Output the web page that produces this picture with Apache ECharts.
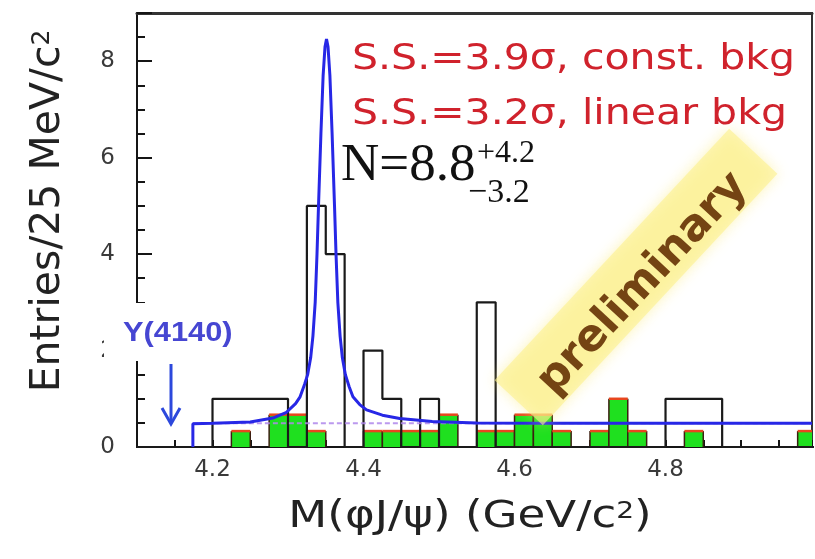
<!DOCTYPE html>
<html><head><meta charset="utf-8">
<script src="https://cdn.jsdelivr.net/npm/echarts@6/dist/echarts.min.js"></script>
<style>html,body{margin:0;padding:0;background:#fff}#c{width:815px;height:559px}</style>
</head><body><div id="c"></div>
<script>
// ---- data ----
const binLow = [4.100,4.125,4.150,4.175,4.200,4.225,4.250,4.275,4.300,4.325,4.350,4.375,
                4.400,4.425,4.450,4.475,4.500,4.525,4.550,4.575,4.600,4.625,4.650,4.675,
                4.700,4.725,4.750,4.775,4.800,4.825,4.850,4.875,4.900,4.925,4.950,4.975];
const binWidth = 0.025;
const dataCounts = [0,0,0,0, 1,1,1,1, 0,5,4,0, 2,1,0,1, 0,0,3,0, 0,0,0,0, 0,0,0,0, 1,1,1,0, 0,0,0,0];
const sidebandCounts = [0,0,0,0, 0,0.33,0,0.67, 0.67,0.33,0,0, 0.33,0.33,0.33,0.33,
                        0.67,0,0.33,0.33, 0.67,0.67,0.33,0, 0.33,1.0,0.33,0, 0,0.33,0,0, 0,0,0,0.33];
const fitX = [4.174,4.174,4.200,4.250,4.280,4.298,4.310,4.316,4.322,4.326,4.330,4.333,4.336,4.3384,4.3404,
              4.3436,4.3465,4.349,4.351,4.353,4.3555,4.3584,4.3616,4.3636,4.366,4.369,4.372,4.376,4.381,
              4.386,4.395,4.404,4.425,4.448,4.491,4.550,4.650,4.994];
const fitY = [0,0.48,0.49,0.52,0.60,0.72,0.90,1.04,1.30,1.50,1.85,2.30,3.00,4.00,5.00,
              6.50,7.70,8.30,8.46,8.30,7.70,6.50,5.00,4.00,3.00,2.30,1.85,1.50,1.25,
              1.04,0.88,0.77,0.66,0.59,0.53,0.50,0.49,0.49];
const bkgX = [4.174, 4.994];
const bkgY = [0.49, 0.49];
const xTickLabels = ['4.2','4.4','4.6','4.8'];
const yTickLabels = ['0','2','4','6','8'];
const xMin = 4.1, xMax = 4.994, yMin = 0, yMax = 9;

// ---- build series data ----
const stepData = binLow.map((x, i) => [x, dataCounts[i]]);
stepData.push([binLow[binLow.length - 1] + binWidth, dataCounts[dataCounts.length - 1]]);
const sideData = binLow.map((x, i) => [x, sidebandCounts[i]]);
const fitData = fitX.map((x, i) => [x, fitY[i]]);
const bkgData = bkgX.map((x, i) => [x, bkgY[i]]);

const chart = echarts.init(document.getElementById('c'), null, {renderer: 'canvas'});
const axisCol = '#151515';
const sansFont = 'DejaVu Sans';

const option = {
  animation: false,
  backgroundColor: '#fff',
  grid: {left: 137, top: 13, right: 2, bottom: 112, show: true, borderColor: '#333', borderWidth: 2, backgroundColor: 'transparent'},
  xAxis: [{
    type: 'value', min: xMin, max: xMax, interval: 0.05,
    axisLine: {onZero: false, lineStyle: {color: axisCol, width: 2}},
    axisTick: {inside: true, length: 7, lineStyle: {color: axisCol, width: 2}},
    splitLine: {show: false},
    axisLabel: {
      margin: 12, color: '#3a3a3a', fontFamily: sansFont, fontSize: 23,
      showMinLabel: true, showMaxLabel: true,
      formatter: v => { const t = Math.round(v * 100) / 100; const s = t.toFixed(1);
        return (Math.abs(t - parseFloat(s)) < 1e-6 && xTickLabels.includes(s)) ? s : ''; }
    }
  }, {
    type: 'value', position: 'top', min: xMin, max: xMax,
    axisLine: {show: true, onZero: false, lineStyle: {color: '#333', width: 3}},
    axisTick: {show: false}, axisLabel: {show: false}, splitLine: {show: false}
  }],
  yAxis: [{
    type: 'value', min: yMin, max: yMax, interval: 0.5,
    axisLine: {onZero: false, lineStyle: {color: axisCol, width: 2}},
    axisTick: {inside: true, length: 8, lineStyle: {color: axisCol, width: 2}},
    splitLine: {show: false},
    axisLabel: {
      margin: 22, color: '#3a3a3a', fontFamily: sansFont, fontSize: 23,
      formatter: v => (Number.isInteger(v) && yTickLabels.includes(String(v))) ? String(v) : ''
    },
    name: 'Entries/25 MeV/c{sup|2}', nameLocation: 'middle', nameGap: 68,
    nameTextStyle: {fontFamily: sansFont, fontSize: 41, color: '#222', padding: [0, 0, 0, 38],
      rich: {sup: {fontFamily: sansFont, fontSize: 25, color: '#222', verticalAlign: 'top', padding: [2, 0, 0, 0]}}}
  }, {
    type: 'value', position: 'left', min: yMin, max: yMax, interval: 2,
    axisLine: {show: false, onZero: false},
    axisTick: {inside: true, length: 15, lineStyle: {color: axisCol, width: 2}},
    axisLabel: {show: false}, splitLine: {show: false}
  }],
  series: [
    {
      type: 'custom', name: 'sideband', xAxisIndex: 0, yAxisIndex: 0, z: 2, clip: true,
      data: sideData,
      renderItem: (params, api) => {
        const lo = api.value(0), v = api.value(1);
        if (!v) return null;
        const p0 = api.coord([lo, 0]);
        const p1 = api.coord([lo + binWidth, v]);
        const x0 = p0[0], x1 = Math.min(p1[0], 813), yb = p0[1], yt = p1[1];
        return {type: 'group', children: [
          {type: 'rect', shape: {x: x0, y: yt, width: x1 - x0, height: yb - yt},
           style: {fill: '#1fe01f'}},
          {type: 'polyline', shape: {points: [[x0, yb], [x0, yt]]}, style: {stroke: '#3b1e10', lineWidth: 1.5, fill: null}},
          {type: 'polyline', shape: {points: [[x1, yb], [x1, yt]]}, style: {stroke: '#3b1e10', lineWidth: 1.5, fill: null}},
          {type: 'polyline', shape: {points: [[x0, yt], [x1, yt]]}, style: {stroke: '#e8461e', lineWidth: 2.5, fill: null}}
        ]};
      }
    },
    {
      type: 'line', name: 'data', xAxisIndex: 0, yAxisIndex: 0, z: 3, step: 'end',
      data: stepData, showSymbol: false, symbol: 'none',
      lineStyle: {color: '#1a1a1a', width: 2.2}
    },
    {
      type: 'line', name: 'bkg', xAxisIndex: 0, yAxisIndex: 0, z: 4,
      data: bkgData, showSymbol: false, symbol: 'none',
      lineStyle: {color: 'rgba(175,135,235,0.85)', width: 2, type: [5, 3]}
    },
    {
      type: 'line', name: 'fit', xAxisIndex: 0, yAxisIndex: 0, z: 5,
      data: fitData, showSymbol: false, symbol: 'none', smooth: false,
      lineStyle: {color: '#2727e6', width: 3}
    }
  ],
  graphic: [
    // x-axis title
    {type: 'text', z: 40, x: 470, y: 517, scaleX: 1.22,
     style: {text: 'M(φJ/ψ) (GeV/c{sup|2})', fontFamily: sansFont, fontSize: 37, fill: '#222',
             align: 'center', verticalAlign: 'middle',
             rich: {sup: {fontFamily: sansFont, fontSize: 23, fill: '#222', verticalAlign: 'top', padding: [2, 0, 0, 0]}}}},
    // preliminary stamp
    {type: 'rect', z: 50, x: 636, y: 277, rotation: 47 * Math.PI / 180,
     shape: {x: -172, y: -33, width: 344, height: 66},
     style: {fill: 'rgba(252,240,140,0.62)', shadowBlur: 14, shadowColor: 'rgba(250,235,120,0.8)'}},
    {type: 'text', z: 51, x: 643, y: 284, rotation: 47 * Math.PI / 180,
     style: {text: 'preliminary', fontFamily: sansFont, fontWeight: 'bold', fontSize: 44,
             fill: '#744413', align: 'center', verticalAlign: 'middle'}},
    // white box behind Y(4140)
    {type: 'rect', z: 60, shape: {x: 104, y: 303, width: 134, height: 58}, style: {fill: '#fff'}},
    {type: 'text', z: 61, x: 123, y: 333, scaleX: 1.1,
     style: {text: 'Y(4140)', fontFamily: 'Liberation Sans', fontWeight: 'bold', fontSize: 28,
             fill: '#4646d2', align: 'left', verticalAlign: 'middle'}},
    {type: 'polyline', z: 61, shape: {points: [[171, 364], [171, 423]]}, style: {stroke: '#2c48dc', lineWidth: 3, fill: null}},
    {type: 'polyline', z: 61, shape: {points: [[162, 408], [171, 424], [180, 408]]}, style: {stroke: '#2c48dc', lineWidth: 3, fill: null}},
    // significance texts
    {type: 'text', z: 70, x: 352, y: 60, scaleX: 1.14,
     style: {text: 'S.S.=3.9σ, const. bkg', fontFamily: sansFont, fontSize: 36, fill: '#d0222c',
             align: 'left', verticalAlign: 'middle'}},
    {type: 'text', z: 70, x: 352, y: 115, scaleX: 1.14,
     style: {text: 'S.S.=3.2σ, linear bkg', fontFamily: sansFont, fontSize: 36, fill: '#d0222c',
             align: 'left', verticalAlign: 'middle'}},
    {type: 'text', z: 70, x: 341, y: 166,
     style: {text: 'N=8.8', fontFamily: 'Liberation Serif', fontSize: 53, fill: '#111',
             align: 'left', verticalAlign: 'middle'}},
    {type: 'text', z: 70, x: 477, y: 154,
     style: {text: '+4.2', fontFamily: 'Liberation Serif', fontSize: 32, fill: '#111',
             align: 'left', verticalAlign: 'middle'}},
    {type: 'text', z: 70, x: 468, y: 193,
     style: {text: '−3.2', fontFamily: 'Liberation Serif', fontSize: 34, fill: '#111',
             align: 'left', verticalAlign: 'middle'}}
  ]
};
chart.setOption(option);
</script></body></html>
